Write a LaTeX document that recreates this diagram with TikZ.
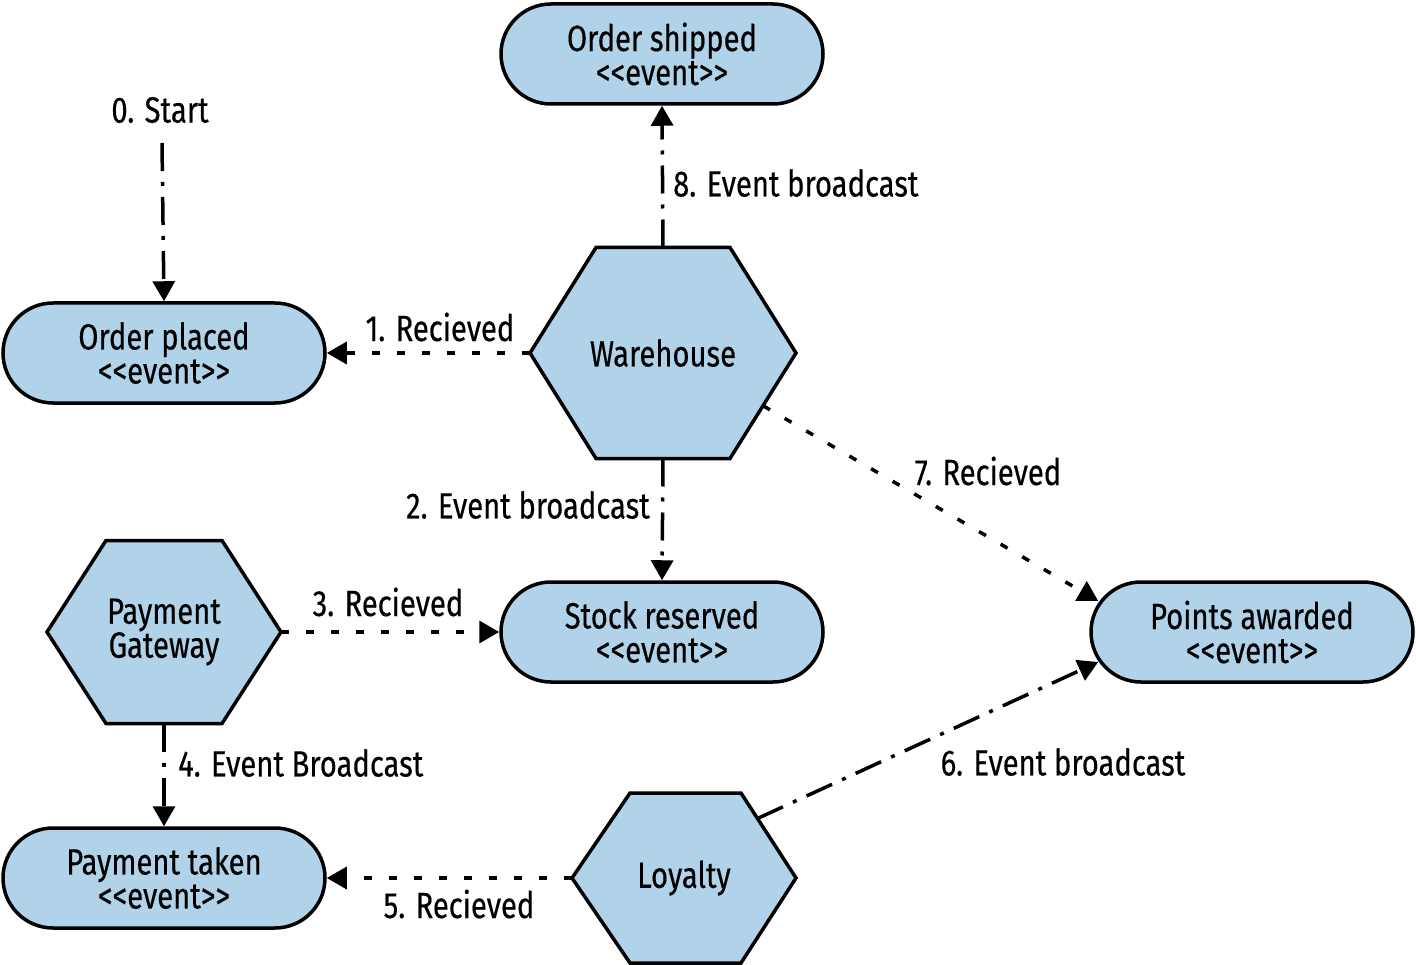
\documentclass[tikz,border=0pt]{standalone}
\usepackage{fontspec}
\newfontfamily\df{Fira Sans}[FakeStretch=0.8, FakeBold=0.4]
\usetikzlibrary{shapes.misc,arrows.meta,calc,backgrounds}
\definecolor{evblue}{HTML}{B1D3EA}
\begin{document}
\begin{tikzpicture}[x=1pt,y=-1pt,
  font=\df\fontsize{36.5}{34}\selectfont,
  evt/.style={rounded rectangle, draw, line width=3.5pt, fill=evblue,
    minimum width=322pt, minimum height=100pt, align=center, inner sep=0pt},
  hexn/.style={rectangle, draw=none, inner sep=0pt, outer sep=0pt, align=center},
  hexline/.style={draw, line width=3.5pt, fill=evblue, line join=miter},
  lbl/.style={inner sep=0pt, anchor=center},
  tip/.style={-{Triangle[length=20pt,width=22pt]}},
  dotline/.style={tip, line width=3.5pt, dash pattern=on 8pt off 17pt},
  dashdot/.style={tip, line width=3.5pt, dash pattern=on 28pt off 11pt on 4pt off 11pt}
]
\useasboundingbox (0,0) rectangle (1416,965);

% event nodes
\node[evt] (os) at (662,54) {Order shipped\\<<event>>};
\node[evt] (op) at (164,353) {Order placed\\<<event>>};
\node[evt] (sr) at (662,632) {Stock reserved\\<<event>>};
\node[evt] (pt) at (164,878) {Payment taken\\<<event>>};
\node[evt] (pa) at (1252,632) {Points awarded\\<<event>>};

% hexagon nodes
\node[hexn, minimum width=266pt, minimum height=211pt] (wh) at (663,353) {Warehouse};
\node[hexn, minimum width=234pt, minimum height=183pt] (pg) at (164,632) {Payment\\Gateway};
\node[hexn, minimum width=224pt, minimum height=170pt] (ly) at (684,878) {Loyalty};

\begin{scope}[on background layer]
  \fill[white] (0,0) rectangle (1416,965);
  \draw[hexline] (wh.west) -- ($(wh.north west)+(66,0)$) -- ($(wh.north east)+(-66,0)$) -- (wh.east)
     -- ($(wh.south east)+(-66,0)$) -- ($(wh.south west)+(66,0)$) -- cycle;
  \draw[hexline] (pg.west) -- ($(pg.north west)+(59,0)$) -- ($(pg.north east)+(-59,0)$) -- (pg.east)
     -- ($(pg.south east)+(-59,0)$) -- ($(pg.south west)+(59,0)$) -- cycle;
  \draw[hexline] (ly.west) -- ($(ly.north west)+(58,0)$) -- ($(ly.north east)+(-55,0)$) -- (ly.east)
     -- ($(ly.south east)+(-55,0)$) -- ($(ly.south west)+(58,0)$) -- cycle;
\end{scope}

% labels
\node[lbl] (l0) at (160,110) {0. Start};
\node[lbl] (l1) at (440,327) {1. Recieved};
\node[lbl, anchor=east] (l2) at (650,505) {2. Event broadcast};
\node[lbl] (l3) at (388,602) {3. Recieved};
\node[lbl, anchor=west] (l4) at (178,763) {4. Event Broadcast};
\node[lbl] (l5) at (459,904) {5. Recieved};
\node[lbl] (l6) at (1063,762) {6. Event broadcast};
\node[lbl] (l7) at (988,471) {7. Recieved};
\node[lbl, anchor=west] (l8) at (673,183) {8. Event broadcast};

% connectors
\coordinate (s0) at (162,143);
\draw[dashdot] (s0) -- (op.north);
\draw[dotline] (wh.west) -- (op.east);
\draw[dashdot] (wh.south) -- (sr.north);
\draw[dotline] (pg.east) -- (sr.west);
\draw[dashdot] (pg.south) -- (pt.north);
\draw[dotline] (ly.west) -- (pt.east);
\draw[dashdot] ($($(ly.north east)+(-55,0)$)!0.3!(ly.east)$) -- ($(pa.west)+(9,30)$);
\draw[dotline] ($(wh.east)!0.5!($(wh.south east)+(-66,0)$)$) -- ($(pa.west)+(9,-31)$);
\draw[dashdot] (wh.north) -- (os.south);
\end{tikzpicture}
\end{document}
